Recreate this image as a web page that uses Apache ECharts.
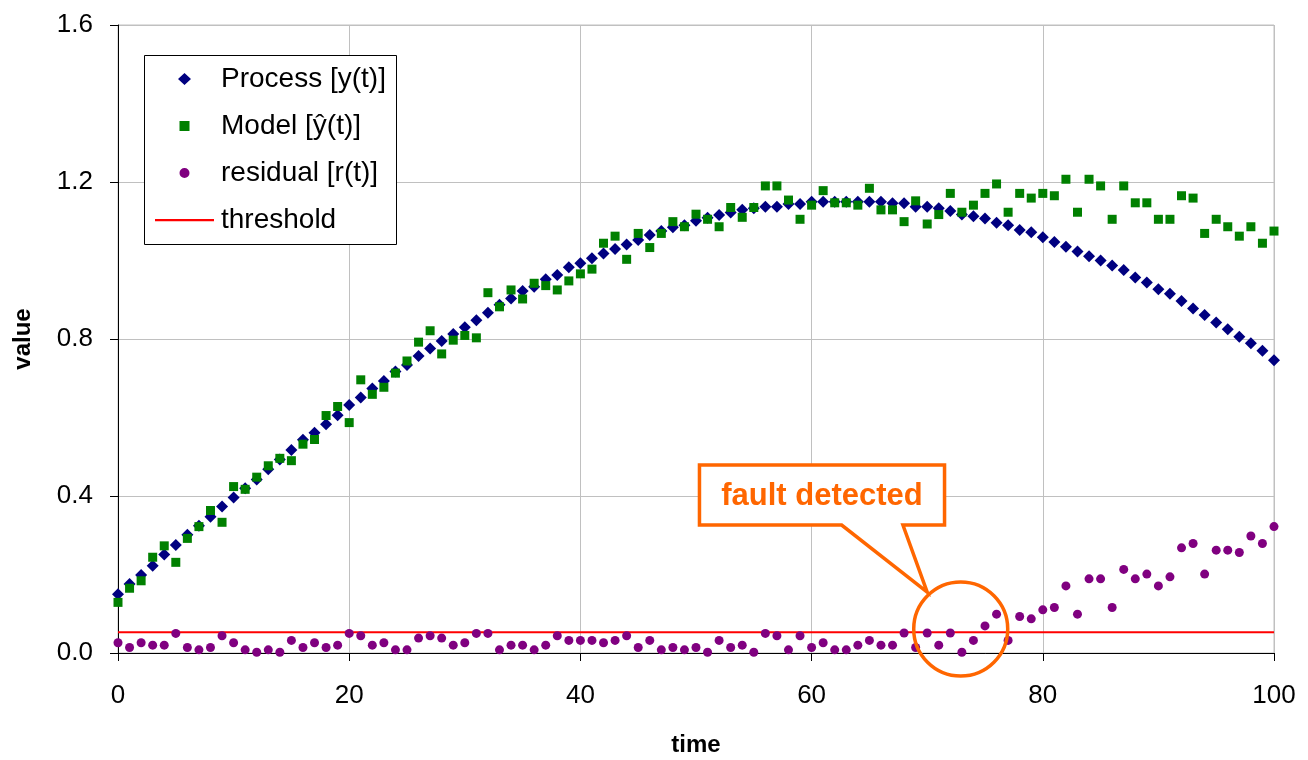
<!DOCTYPE html>
<html><head><meta charset="utf-8">
<script src="https://cdn.jsdelivr.net/npm/echarts@6/dist/echarts.min.js"></script>
<style>html,body{margin:0;padding:0;background:#fff}#c{width:1308px;height:760px}</style>
</head><body><div id="c"></div>
<script>
// values (t = 0..100)
const processValues = [0.150,0.176,0.199,0.222,0.251,0.275,0.301,0.324,0.347,0.373,
0.396,0.420,0.442,0.468,0.493,0.517,0.543,0.561,0.583,0.606,
0.632,0.651,0.674,0.693,0.717,0.734,0.757,0.776,0.795,0.813,
0.830,0.848,0.867,0.887,0.903,0.922,0.933,0.952,0.963,0.983,
0.993,1.006,1.018,1.029,1.041,1.052,1.065,1.075,1.085,1.090,
1.101,1.109,1.116,1.122,1.129,1.133,1.137,1.137,1.144,1.144,
1.150,1.150,1.150,1.150,1.150,1.150,1.150,1.146,1.146,1.137,
1.137,1.133,1.126,1.117,1.113,1.107,1.096,1.090,1.078,1.072,
1.059,1.047,1.035,1.023,1.011,1.000,0.987,0.976,0.957,0.944,
0.927,0.915,0.897,0.878,0.861,0.842,0.825,0.806,0.789,0.770,0.746];
const modelValues = [0.129,0.165,0.184,0.244,0.273,0.231,0.292,0.322,0.363,0.333,
0.424,0.417,0.448,0.477,0.496,0.490,0.532,0.544,0.605,0.628,
0.587,0.696,0.659,0.677,0.713,0.744,0.792,0.821,0.762,0.797,
0.809,0.803,0.918,0.882,0.925,0.902,0.942,0.936,0.925,0.948,
0.966,0.978,1.044,1.062,1.003,1.069,1.033,1.069,1.099,1.086,
1.118,1.105,1.086,1.135,1.110,1.135,1.190,1.190,1.154,1.105,
1.141,1.178,1.147,1.147,1.141,1.184,1.129,1.129,1.099,1.152,
1.093,1.117,1.171,1.123,1.141,1.171,1.195,1.123,1.171,1.159,
1.171,1.165,1.207,1.123,1.207,1.190,1.105,1.190,1.147,1.147,
1.105,1.105,1.165,1.159,1.069,1.105,1.086,1.062,1.086,1.044,1.075];
const residualValues = [0.026,0.014,0.026,0.020,0.020,0.050,0.014,0.008,0.014,0.044,
0.026,0.008,0.002,0.008,0.002,0.032,0.014,0.026,0.014,0.020,
0.050,0.044,0.020,0.026,0.008,0.008,0.038,0.044,0.038,0.020,
0.026,0.050,0.050,0.008,0.020,0.020,0.008,0.020,0.044,0.032,
0.032,0.032,0.026,0.032,0.044,0.014,0.032,0.008,0.014,0.008,
0.014,0.002,0.032,0.014,0.020,0.002,0.050,0.044,0.008,0.044,
0.014,0.026,0.008,0.008,0.020,0.032,0.020,0.020,0.051,0.014,
0.051,0.020,0.051,0.002,0.032,0.069,0.099,0.032,0.093,0.087,
0.110,0.116,0.171,0.099,0.189,0.189,0.116,0.213,0.189,0.201,
0.171,0.194,0.268,0.279,0.201,0.262,0.262,0.256,0.298,0.279,0.322];
const thresholdValue = 0.053;
const timeRange = [0, 100];
const seriesNames = ['Process [y(t)]', 'Model [\u0177(t)]', 'residual [r(t)]', 'threshold'];
const annotationText = 'fault detected';

const FONT = "'Liberation Sans', Arial, sans-serif";
const toPairs = arr => arr.map((v, i) => [i, v]);

// legend icon paths: invisible corner points keep the 59x14 box so the marker keeps its shape
const BOX = 'M0,0L0.01,0L0,0.01Z M59,14L58.99,14L59,13.99Z ';
const iconDiamond = 'path://' + BOX + 'M29.5,1L36,7L29.5,13L23,7Z';
const iconSquare = 'path://' + BOX + 'M24.5,2H34.5V12H24.5Z';
const iconCircle = 'path://' + BOX + 'M24.5,7A5,5,0,1,0,34.5,7A5,5,0,1,0,24.5,7Z';
const iconLine = 'path://' + BOX + 'M0,6H59V8.2H0Z';

const chart = echarts.init(document.getElementById('c'), null, {renderer: 'canvas'});
chart.setOption({
  animation: false,
  backgroundColor: '#fff',
  grid: {left: 118, right: 34, top: 25, bottom: 107, show: true, borderColor: '#c0c0c0', borderWidth: 1, outerBoundsMode: 'none'},
  xAxis: {
    type: 'value', min: timeRange[0], max: timeRange[1], interval: 20,
    name: 'time', nameLocation: 'middle', nameGap: 80,
    nameTextStyle: {fontFamily: FONT, fontSize: 24, fontWeight: 'bold', color: '#000'},
    axisLine: {show: true, lineStyle: {color: '#000', width: 1}},
    axisTick: {show: true, length: 8, lineStyle: {color: '#000'}},
    axisLabel: {fontFamily: FONT, fontSize: 26, color: '#000', margin: 30},
    splitLine: {show: true, lineStyle: {color: '#c0c0c0', width: 1}}
  },
  yAxis: {
    type: 'value', min: 0, max: 1.6, interval: 0.4,
    name: 'value', nameLocation: 'middle', nameGap: 83, nameRotate: 90,
    nameTextStyle: {fontFamily: FONT, fontSize: 24, fontWeight: 'bold', color: '#000'},
    axisLine: {show: true, lineStyle: {color: '#000', width: 1}},
    axisTick: {show: true, length: 8, lineStyle: {color: '#000'}},
    axisLabel: {fontFamily: FONT, fontSize: 26, color: '#000', margin: 25, formatter: v => v.toFixed(1)},
    splitLine: {show: true, lineStyle: {color: '#c0c0c0', width: 1}}
  },
  legend: {
    orient: 'vertical', left: 155, top: 64, padding: 0, itemGap: 17,
    itemWidth: 59, itemHeight: 14,
    textStyle: {fontFamily: FONT, fontSize: 28, color: '#000', lineHeight: 30, padding: [0, 0, 0, 2]},
    data: [
      {name: seriesNames[0], icon: iconDiamond},
      {name: seriesNames[1], icon: iconSquare},
      {name: seriesNames[2], icon: iconCircle},
      {name: seriesNames[3], icon: iconLine}
    ]
  },
  series: [
    {name: seriesNames[3], type: 'line', data: [[timeRange[0], thresholdValue], [timeRange[1], thresholdValue]],
     symbol: 'none', lineStyle: {color: '#ff0000', width: 2}, itemStyle: {color: '#ff0000'}, z: 2},
    {name: seriesNames[0], type: 'scatter', data: toPairs(processValues), symbol: 'diamond', symbolSize: 12,
     itemStyle: {color: '#000080', opacity: 1}, z: 3},
    {name: seriesNames[1], type: 'scatter', data: toPairs(modelValues), symbol: 'rect', symbolSize: 9,
     itemStyle: {color: '#008000', opacity: 1}, z: 4},
    {name: seriesNames[2], type: 'scatter', data: toPairs(residualValues), symbol: 'circle', symbolSize: 9,
     itemStyle: {color: '#800080', opacity: 1}, z: 5}
  ]
});

// annotation (callout + circle) positioned via data coordinates
const P = (x, y) => chart.convertToPixel({gridIndex: 0}, [x, y]);
const bl = P(50.3, 0.326), tr = P(71.5, 0.479);
const b1 = P(62.6, 0.326), b2 = P(67.9, 0.326), tip = P(70.0, 0.155);
const cc = P(72.9, 0.061);
const calloutPts = [[bl[0], tr[1]], [tr[0], tr[1]], [tr[0], bl[1]], [b2[0], bl[1]], [tip[0], tip[1]], [b1[0], bl[1]], [bl[0], bl[1]]];
chart.setOption({
  graphic: [
    {type: 'rect', z: 1, shape: {x: 144.5, y: 55.5, width: 252, height: 189},
     style: {fill: '#fff', stroke: '#000', lineWidth: 1}},
    {type: 'polygon', z: 1, shape: {points: calloutPts},
     style: {fill: '#fff', stroke: '#ff6600', lineWidth: 3.5, lineJoin: 'miter'}},
    {type: 'text', z: 1, x: (bl[0] + tr[0]) / 2, y: (bl[1] + tr[1]) / 2 + 1,
     style: {text: annotationText, fill: '#ff6600', font: "bold 31px " + FONT, align: 'center', verticalAlign: 'middle'}},
    {type: 'circle', z: 6, shape: {cx: cc[0], cy: cc[1], r: 47},
     style: {fill: 'none', stroke: '#ff6600', lineWidth: 3.5}}
  ]
});
</script>
</body></html>
